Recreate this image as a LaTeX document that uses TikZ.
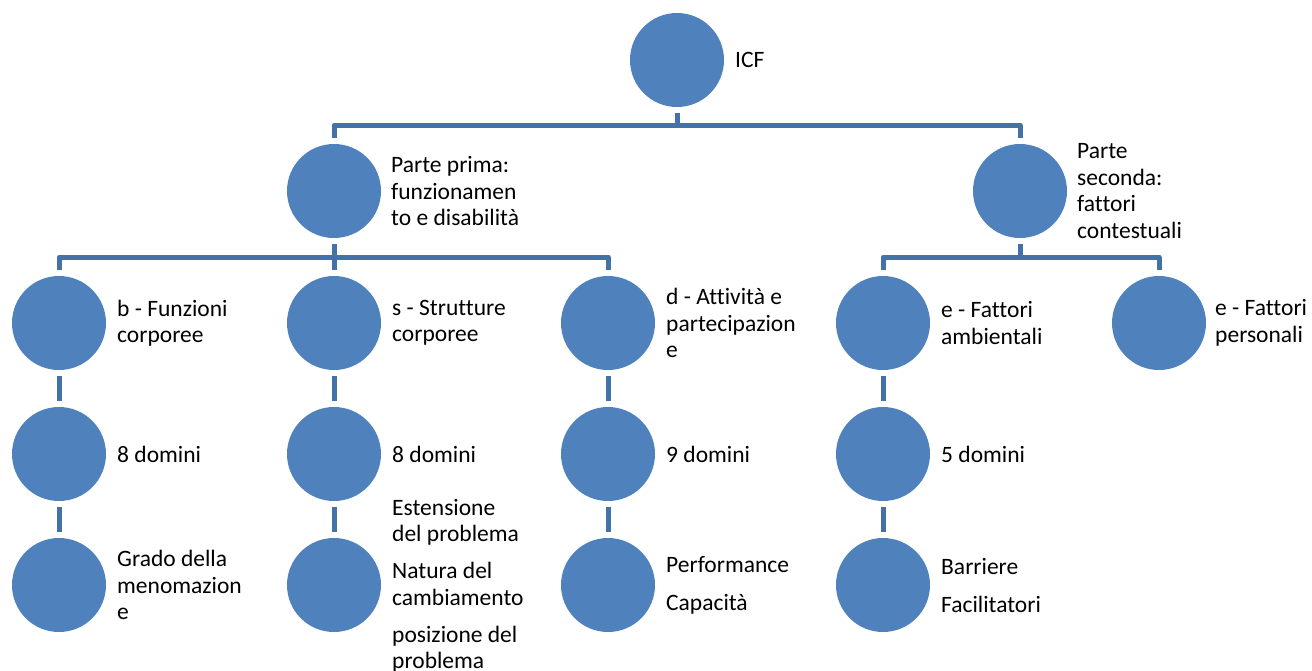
\documentclass[tikz,border=0pt]{standalone}
\usepackage{fontspec}
\setmainfont[Ligatures={NoCommon}]{Carlito}
\definecolor{circfill}{RGB}{79,129,189}
\definecolor{linecol}{RGB}{68,114,168}
\tikzset{
  circ/.style={circle,fill=circfill,draw=none,minimum size=94pt,inner sep=0pt},
  lbl/.style={anchor=west,align=left,inner sep=0pt,font=\fontsize{23.5}{26.5}\selectfont,text=black},
  conn/.style={draw=linecol,line width=5pt,line join=round}
}
\begin{document}
\begin{tikzpicture}[x=1pt,y=-1pt]
\useasboundingbox (0,0) rectangle (1312,670);
% circles
\node[circ] (icf) at (677,60) {};
\node[circ] (p1) at (334,191) {};
\node[circ] (p2) at (1020,191) {};
\node[circ] (b) at (59,323) {};
\node[circ] (s) at (334,323) {};
\node[circ] (d) at (608,323) {};
\node[circ] (ea) at (883,323) {};
\node[circ] (ep) at (1159,323) {};
\node[circ] (b2) at (59,454) {};
\node[circ] (s2) at (334,454) {};
\node[circ] (d2) at (608,454) {};
\node[circ] (ea2) at (883,454) {};
\node[circ] (b3) at (59,585) {};
\node[circ] (s3) at (334,585) {};
\node[circ] (d3) at (608,585) {};
\node[circ] (ea3) at (883,585) {};
% labels
\node[lbl] (ticf) at (735,60) {ICF};
\node[lbl] (tp1) at (391,191) {Parte prima:\\funzionamen\\to e disabilità};
\node[lbl] (tp2) at (1077,191) {Parte\\seconda:\\fattori\\contestuali};
\node[lbl] (tb) at (117,323) {b - Funzioni\\corporee};
\node[lbl] (ts) at (392,323) {s - Strutture\\corporee};
\node[lbl] (td) at (666,323) {d - Attività e\\partecipazion\\e};
\node[lbl] (tea) at (941,323) {e - Fattori\\ambientali};
\node[lbl] (tep) at (1215,323) {e - Fattori\\personali};
\node[lbl] (tb2) at (117,454) {8 domini};
\node[lbl] (ts2) at (392,454) {8 domini};
\node[lbl] (td2) at (666,454) {9 domini};
\node[lbl] (tea2) at (941,454) {5 domini};
\node[lbl] (tb3) at (117,585) {Grado della\\menomazion\\e};
\node[lbl] (ts3) at (392,586) {Estensione\\del problema\\[10.5pt]Natura del\\cambiamento\\[10.5pt]posizione del\\problema};
\node[lbl] (td3) at (666,585) {Performance\\[11.5pt]Capacità};
\node[lbl] (tea3) at (941,585) {Barriere\\[11.5pt]Facilitatori};
% connectors
\draw[conn] ([yshift=-6pt]icf.south) -- ++(0,12) -| ([yshift=6pt]p1.north);
\draw[conn] ([yshift=-6pt]icf.south) -- ++(0,12) -| ([yshift=6pt]p2.north);
\draw[conn] ([yshift=-6pt]p1.south) -- ++(0,13) -| ([yshift=6pt]b.north);
\draw[conn] ([yshift=-6pt]p1.south) -- ([yshift=6pt]s.north);
\draw[conn] ([yshift=-6pt]p1.south) -- ++(0,13) -| ([yshift=6pt]d.north);
\draw[conn] ([yshift=-6pt]p2.south) -- ++(0,13) -| ([yshift=6pt]ea.north);
\draw[conn] ([yshift=-6pt]p2.south) -- ++(0,13) -| ([yshift=6pt]ep.north);
\foreach \a/\c in {b/b2,b2/b3,s/s2,s2/s3,d/d2,d2/d3,ea/ea2,ea2/ea3}{
  \draw[conn] ([yshift=-6pt]\a.south) -- ([yshift=6pt]\c.north);
}
\end{tikzpicture}
\end{document}
